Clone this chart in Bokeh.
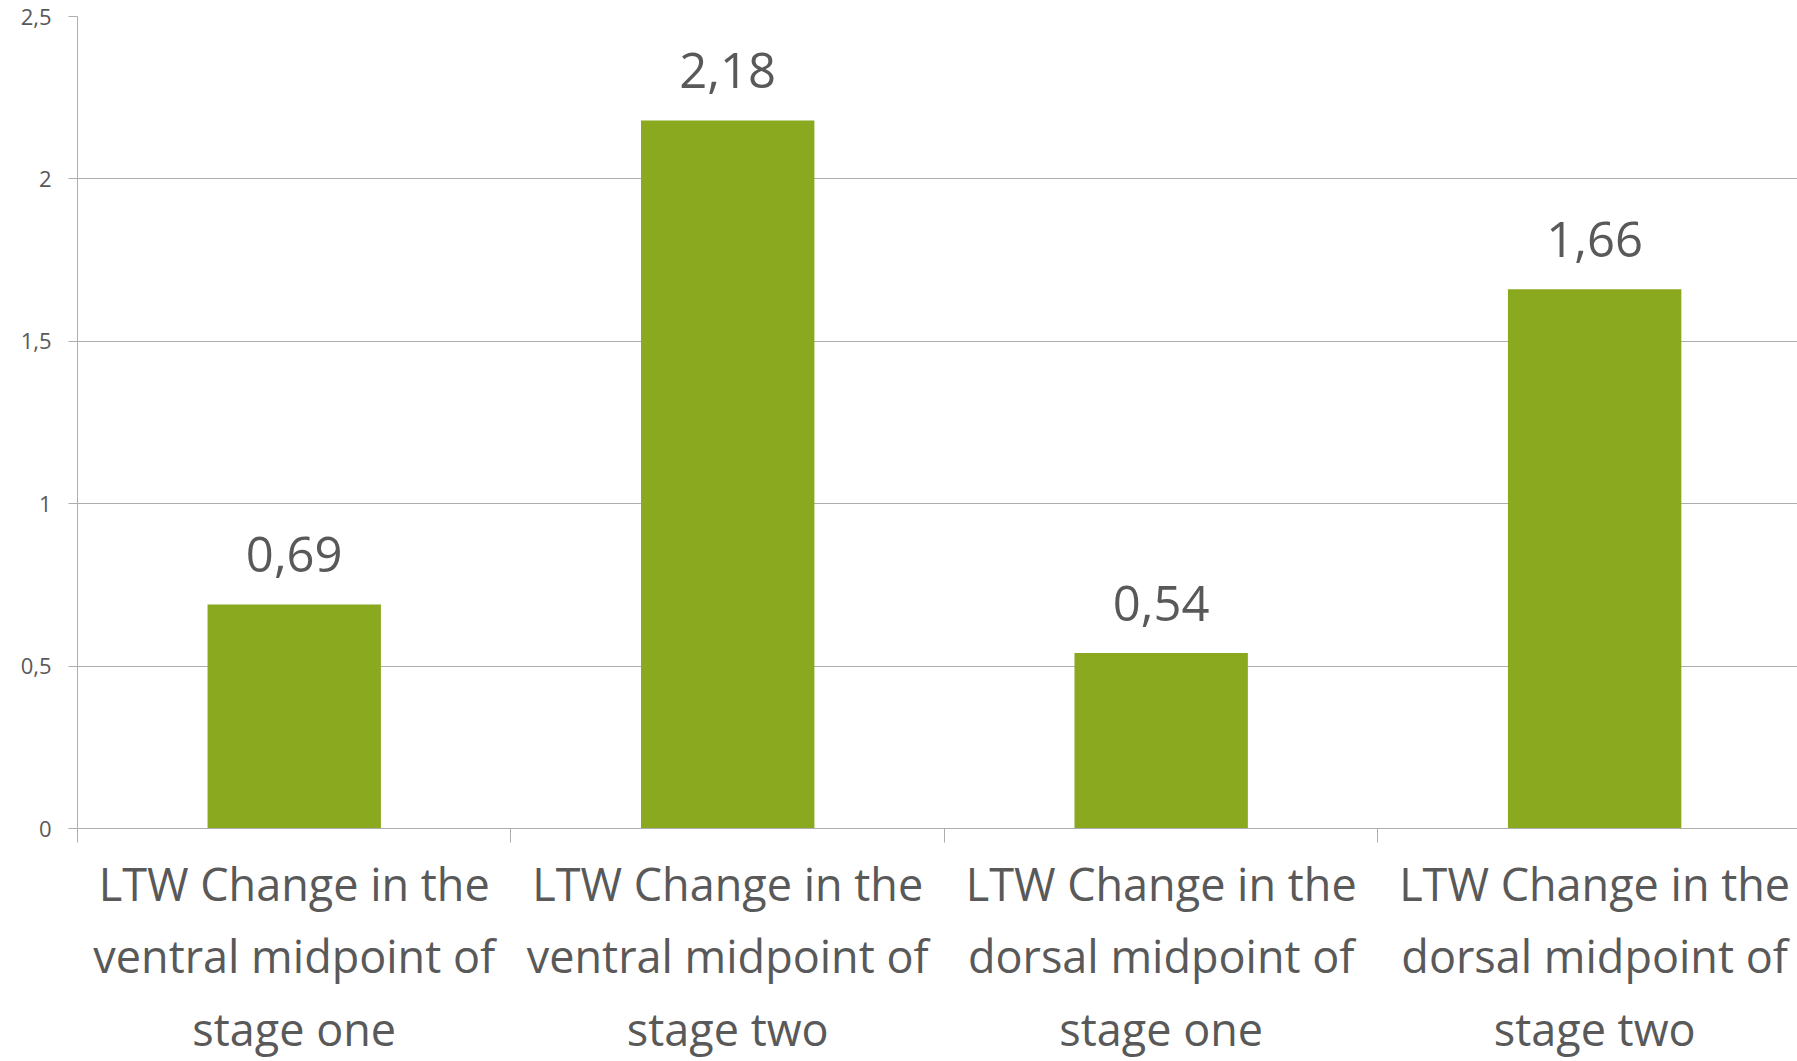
from bokeh.plotting import figure
from bokeh.models import Range1d, FixedTicker, ColumnDataSource
from bokeh.embed import file_html
from bokeh.resources import INLINE
from bokeh.core.properties import value

categories = [
    "LTW Change in the\nventral midpoint of\nstage one",
    "LTW Change in the\nventral midpoint of\nstage two",
    "LTW Change in the\ndorsal midpoint of\nstage one",
    "LTW Change in the\ndorsal midpoint of\nstage two",
]
values = [0.69, 2.18, 0.54, 1.66]
value_labels = ["0,69", "2,18", "0,54", "1,66"]
y_ticks = [0, 0.5, 1, 1.5, 2, 2.5]
y_tick_labels = ["0", "0,5", "1", "1,5", "2", "2,5"]

FONT = "Open Sans"
TEXT = "#595959"
GRID = "#ADADAD"
BAR = "#8AA91F"

centers = [i + 0.5 for i in range(len(categories))]
bounds = [float(i) for i in range(len(categories))]

src = ColumnDataSource(dict(x=centers, top=values, label=value_labels))

p = figure(width=1797, height=1061, output_backend="svg", toolbar_location=None,
           x_range=Range1d(0, 3.968), y_range=Range1d(0, 2.5),
           min_border_left=77, min_border_top=16, min_border_right=0,
           min_border_bottom=0)
p.outline_line_color = None
p.background_fill_color = "white"
p.border_fill_color = "white"

p.vbar(x="x", top="top", width=0.4, bottom=0, source=src,
       fill_color=BAR, line_color=None)
p.text(x="x", y="top", text="label", source=src,
       text_font=value(FONT), text_font_size="49px", text_color=TEXT,
       text_align="center", text_baseline="alphabetic", y_offset=-50)

# x axis
xa = p.xaxis[0]
xa.ticker = FixedTicker(ticks=centers, minor_ticks=bounds)
xa.major_label_overrides = {c: lab for c, lab in zip(centers, categories)}
xa.major_tick_line_color = None
xa.major_tick_out = 12
xa.major_tick_in = 0
xa.minor_tick_line_color = GRID
xa.minor_tick_out = 14
xa.minor_tick_in = 0
xa.axis_line_color = GRID
xa.major_label_text_font = FONT
xa.major_label_text_font_size = "45px"
xa.major_label_text_color = TEXT
xa.major_label_text_line_height = 1.19
xa.major_label_standoff = 10

# y axis
ya = p.yaxis[0]
ya.ticker = FixedTicker(ticks=y_ticks)
ya.major_label_overrides = {t: lab for t, lab in zip(y_ticks, y_tick_labels)}
ya.axis_line_color = GRID
ya.major_tick_line_color = GRID
ya.major_tick_out = 9
ya.major_tick_in = 0
ya.minor_tick_line_color = None
ya.major_label_text_font = FONT
ya.major_label_text_font_size = "22px"
ya.major_label_text_color = TEXT
ya.major_label_standoff = 17

p.xgrid.grid_line_color = None
p.ygrid.grid_line_color = GRID
p.ygrid.grid_line_width = 1

open("out.html", "w").write(file_html(p, INLINE))
